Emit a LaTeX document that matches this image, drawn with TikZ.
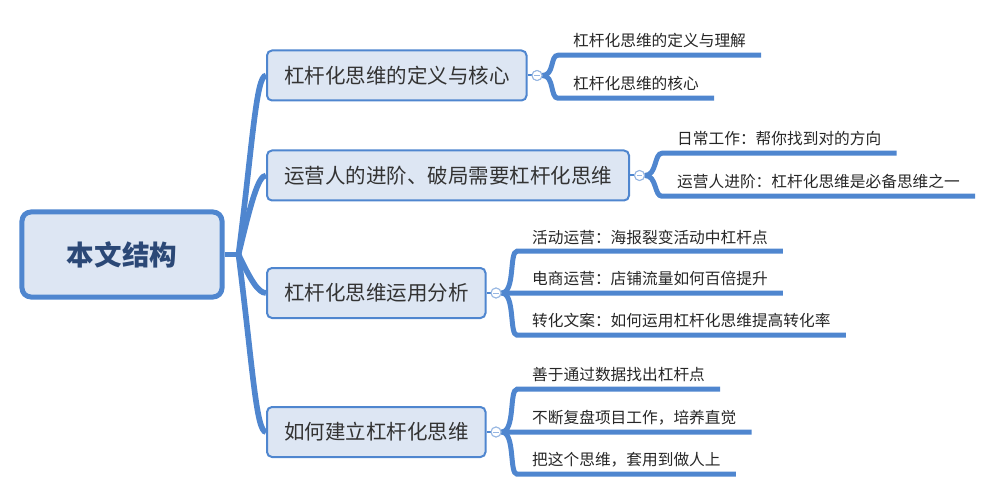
\documentclass[tikz,border=0pt]{standalone}
\usepackage{fontspec}
\setmainfont{Noto Sans CJK SC}
\usepackage{tikz}
\usetikzlibrary{positioning}
\definecolor{mapblue}{RGB}{79,134,207}
\definecolor{mapfill}{RGB}{221,230,243}
\definecolor{roottext}{RGB}{43,72,118}
\definecolor{foldring}{RGB}{150,182,226}

\begin{document}
\begin{tikzpicture}[x=0.3mm,y=-0.3mm,
  rootbox/.style={draw=mapblue,fill=mapfill,line width=1.5mm,rounded corners=2.7mm,
    minimum width=60mm,minimum height=25.5mm,font=\fontsize{23.5}{26}\selectfont\bfseries,
    text=roottext},
  branchbox/.style={draw=mapblue,fill=mapfill,line width=0.6mm,rounded corners=1.5mm,
    minimum height=15mm,inner xsep=5.1mm,anchor=west,
    font=\fontsize{17.5}{20}\selectfont,text=black!80},
  leaf/.style={minimum height=8.4mm,inner xsep=4.5mm,inner ysep=0pt,anchor=west,
    font=\fontsize{13.4}{15}\selectfont,text=black!85},
  fold/.style={circle,draw=foldring,fill=white,line width=0.3mm,minimum size=3mm,
    inner sep=0pt,path picture={\draw[foldring,line width=0.25mm]
      ([xshift=-0.8mm]path picture bounding box.center) --
      ([xshift=0.8mm]path picture bounding box.center);}},
  trunk/.style={draw=mapblue,line width=1.7mm},
  twig/.style={draw=mapblue,line width=0.6mm},
  leafline/.style={draw=mapblue,line width=1.5mm}]

  \useasboundingbox (0,0) rectangle (1000,496);

  % root
  \node[rootbox] (root) at (122,254.5) {本文结构};
  \coordinate[right=4.2mm of root.east] (hub);

  % branches
  \node[branchbox] (b1) at (266,75.5) {杠杆化思维的定义与核心};
  \node[branchbox] (b2) at (266,175.5) {运营人的进阶、破局需要杠杆化思维};
  \node[branchbox] (b3) at (266,293) {杠杆化思维运用分析};
  \node[branchbox] (b4) at (266,432) {如何建立杠杆化思维};

  % trunk lines
  \draw[trunk] (root.east) -- (hub);
  \draw[trunk] (hub) .. controls +(14,-110) and +(-10,0) .. (b1.west);
  \draw[trunk] (hub) .. controls +(12,-50) and +(-8,0) .. (b2.west);
  \draw[trunk] (hub) .. controls +(12,25) and +(-8,0) .. (b3.west);
  \draw[trunk] (hub) .. controls +(14,110) and +(-10,0) .. (b4.west);

  % fold marks
  \node[fold,right=1.2mm of b1] (c1) {};
  \node[fold,right=1.2mm of b2] (c2) {};
  \node[fold,right=1.2mm of b3] (c3) {};
  \node[fold,right=1.2mm of b4] (c4) {};
  \foreach \b in {1,...,4} \draw[twig] (b\b) -- (c\b);

  % leaves of b1
  \node[leaf] (l11) at (558,41) {杠杆化思维的定义与理解};
  \node[leaf] (l12) at (558,84) {杠杆化思维的核心};
  \draw[leafline] (c1.east) .. controls +(12,0) and +(-8,0) .. (l11.south west) -- (l11.south east);
  \draw[leafline] (c1.east) .. controls +(12,0) and +(-8,0) .. (l12.south west) -- (l12.south east);

  % leaves of b2
  \node[leaf] (l21) at (662,139) {日常工作：帮你找到对的方向};
  \node[leaf] (l22) at (662,182) {运营人进阶：杠杆化思维是必备思维之一};
  \draw[leafline] (c2.east) .. controls +(12,0) and +(-8,0) .. (l21.south west) -- (l21.south east);
  \draw[leafline] (c2.east) .. controls +(12,0) and +(-8,0) .. (l22.south west) -- (l22.south east);

  % leaves of b3
  \node[leaf] (l31) at (517,237) {活动运营：海报裂变活动中杠杆点};
  \node[leaf] (l32) at (517,279) {电商运营：店铺流量如何百倍提升};
  \node[leaf] (l33) at (517,321) {转化文案：如何运用杠杆化思维提高转化率};
  \draw[leafline] (c3.east) .. controls +(14,0) and +(-8,0) .. (l31.south west) -- (l31.south east);
  \draw[leafline] (c3.east) -- (l32.south west) -- (l32.south east);
  \draw[leafline] (c3.east) .. controls +(14,0) and +(-8,0) .. (l33.south west) -- (l33.south east);

  % leaves of b4
  \node[leaf] (l41) at (517,375) {善于通过数据找出杠杆点};
  \node[leaf] (l42) at (517,418) {不断复盘项目工作，培养直觉};
  \node[leaf] (l43) at (517,460) {把这个思维，套用到做人上};
  \draw[leafline] (c4.east) .. controls +(14,0) and +(-8,0) .. (l41.south west) -- (l41.south east);
  \draw[leafline] (c4.east) -- (l42.south west) -- (l42.south east);
  \draw[leafline] (c4.east) .. controls +(14,0) and +(-8,0) .. (l43.south west) -- (l43.south east);

  % redraw fold marks on top
  \foreach \b in {1,...,4} \node[fold] at (c\b) {};
\end{tikzpicture}
\end{document}
